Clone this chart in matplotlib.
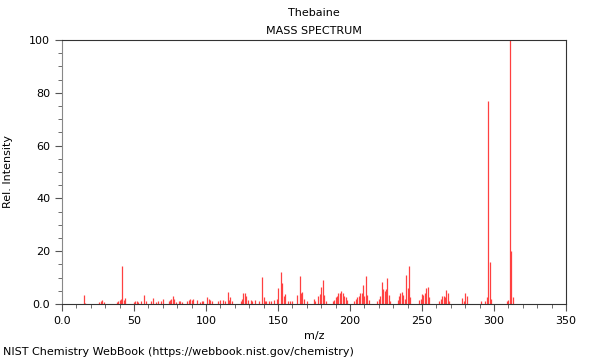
import matplotlib
matplotlib.use("Agg")
import matplotlib.pyplot as plt
from matplotlib.ticker import MultipleLocator, FuncFormatter

# peaks (m/z, relative intensity)
mz = [15, 16, 26, 27, 28, 29, 38, 39, 40, 41, 42, 43, 44, 50, 51, 52, 53,
      55, 57, 58, 62, 63, 65, 67, 69, 70, 74, 75, 76, 77, 78, 79, 81, 82, 83,
      87, 88, 89, 90, 91, 94, 96, 97, 98, 101, 102, 103, 104, 108, 110, 112,
      113, 115, 116, 117, 118, 124, 125, 126, 127, 128, 129, 131, 132, 134,
      137, 139, 140, 141, 142, 144, 145, 147, 149, 150, 152, 153, 154, 155,
      157, 158, 160, 163, 165, 166, 167, 168, 170, 175, 176, 178, 179, 180,
      181, 182, 183, 188, 189, 190, 191, 192, 193, 194, 195, 196, 197, 198,
      203, 204, 205, 206, 207, 208, 209, 210, 211, 212, 213, 219, 220, 221,
      222, 223, 224, 225, 226, 227, 228, 233, 234, 235, 236, 237, 238, 239,
      240, 241, 242, 248, 249, 250, 251, 252, 253, 254, 255, 262, 263, 264,
      265, 266, 267, 268, 269, 278, 279, 280, 281, 291, 294, 295, 296, 297,
      298, 309, 310, 311, 312, 313]
intensity = [3.4, 0.5, 0.7, 1.2, 1.5, 0.6, 0.8, 1.2, 1.5, 2.0, 14.5, 1.5, 2.3,
             0.6, 1.3, 1.0, 0.6, 1.0, 3.4, 1.0, 1.0, 2.3, 0.9, 1.0, 1.2, 2.0,
             1.0, 1.5, 2.0, 3.0, 1.8, 0.8, 1.0, 1.0, 0.8, 1.2, 1.5, 1.8, 1.4,
             2.0, 1.5, 0.8, 1.0, 1.0, 2.5, 1.8, 1.5, 1.0, 1.0, 1.5, 1.5, 1.2,
             4.6, 1.5, 2.6, 1.2, 1.0, 2.0, 4.3, 4.0, 3.0, 1.5, 1.5, 1.3, 1.5,
             1.0, 10.3, 2.8, 1.0, 1.0, 1.2, 1.0, 1.5, 2.0, 6.0, 12.2, 7.8, 3.0,
             3.8, 1.0, 1.0, 1.0, 3.4, 10.6, 4.3, 4.5, 2.0, 1.0, 2.0, 1.0, 3.2,
             3.7, 6.6, 9.1, 3.4, 1.0, 1.0, 1.5, 2.5, 3.0, 4.0, 4.0, 5.0, 4.0,
             3.0, 2.5, 1.5, 1.0, 2.0, 2.5, 3.0, 4.0, 4.0, 7.2, 3.0, 10.5, 3.5,
             1.5, 1.0, 2.0, 3.0, 8.5, 5.5, 5.0, 5.5, 9.7, 3.5, 1.0, 1.5, 3.0,
             4.0, 4.5, 3.5, 2.0, 11.0, 6.0, 14.5, 2.5, 1.5, 2.0, 3.8, 3.4, 4.3,
             5.9, 6.5, 2.8, 1.0, 2.0, 3.2, 3.0, 2.5, 5.3, 4.0, 1.0, 2.4, 1.0,
             4.0, 3.2, 1.0, 1.0, 2.5, 77.0, 16.0, 1.9, 1.0, 1.5, 100.0, 20.0,
             2.5]

fig = plt.figure(figsize=(6, 3.6), dpi=100)
ax = fig.add_axes([0.1033, 0.1556, 0.84, 0.7333])

ax.vlines(mz, 0, intensity, colors='#ff4040', linewidth=0.9)

ax.set_xlim(0, 350)
ax.set_ylim(0, 100)
ax.xaxis.set_major_locator(MultipleLocator(50))
ax.xaxis.set_minor_locator(MultipleLocator(10))
ax.yaxis.set_major_locator(MultipleLocator(20))
ax.yaxis.set_minor_locator(MultipleLocator(5))
fmt = FuncFormatter(lambda v, p: "0.0" if v == 0 else "%d" % v)
ax.xaxis.set_major_formatter(fmt)
ax.yaxis.set_major_formatter(fmt)
ax.tick_params(which='major', length=5, width=0.8, color='#555555', labelsize=8)
ax.tick_params(which='minor', length=3, width=0.6, color='#555555')

for s in ax.spines.values():
    s.set_color('#333333')
    s.set_linewidth(0.8)
ax.spines['left'].set_color('#888888')

ax.set_xlabel('m/z', fontsize=8)
ax.set_ylabel('Rel. Intensity', fontsize=8, labelpad=12)
fig.text(0.523, 0.963, 'Thebaine', ha='center', va='center', fontsize=8)
fig.text(0.523, 0.915, 'MASS SPECTRUM', ha='center', va='center', fontsize=8)
fig.text(0.005, 0.022, 'NIST Chemistry WebBook (https://webbook.nist.gov/chemistry)',
         ha='left', va='center', fontsize=8)

fig.savefig('out.png', dpi=100)
